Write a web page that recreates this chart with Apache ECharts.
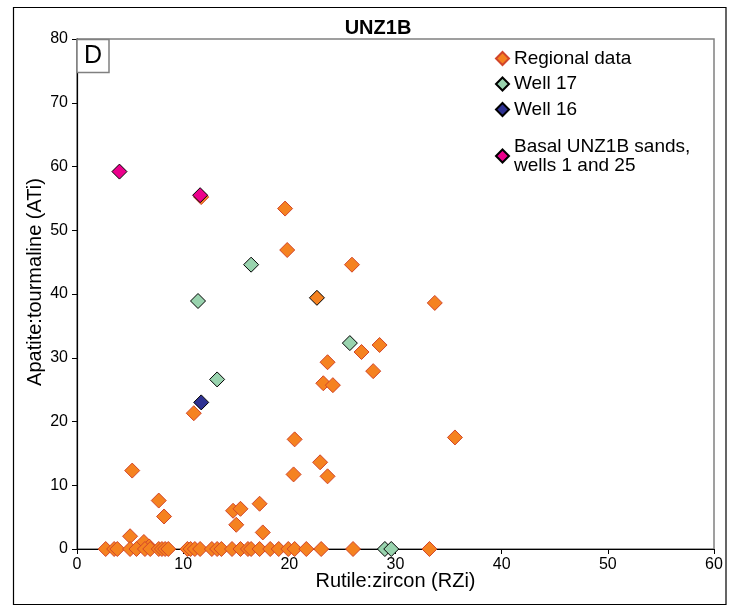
<!DOCTYPE html>
<html>
<head>
<meta charset="utf-8">
<script src="https://cdn.jsdelivr.net/npm/echarts@6/dist/echarts.min.js"></script>
<style>
html,body{margin:0;padding:0;background:#fff;}
#chart{width:732px;height:608px;}
</style>
</head>
<body>
<div id="chart"></div>
<script>
// ---- data ----
const xTicks = [0, 10, 20, 30, 40, 50, 60];
const yTicks = [0, 10, 20, 30, 40, 50, 60, 70, 80];

const regionalX = [11.7, 19.6, 19.8, 25.9, 33.7, 26.8, 28.5, 23.6, 27.9, 23.2, 24.1, 11.0, 20.5, 35.6, 5.2, 22.9, 20.4, 23.6, 7.7, 8.2, 14.7, 15.4, 15.0, 17.2, 17.5, 5.0, 6.3, 6.8,
  2.7, 3.5, 3.8, 5.0, 5.6, 6.4, 6.9, 7.7, 8.0, 8.3, 8.6, 10.4, 10.7, 11.1, 11.6, 12.7, 13.2, 13.6, 14.6, 15.4, 16.1, 16.4, 17.2, 18.2, 19.0, 19.9, 20.5, 21.6, 23.0, 26.0, 33.2];
const regionalY = [55.2, 53.4, 46.9, 44.6, 38.6, 30.9, 32.0, 29.3, 27.9, 26.0, 25.7, 21.3, 17.2, 17.5, 12.3, 13.6, 11.7, 11.4, 7.6, 5.1, 6.0, 6.3, 3.8, 7.1, 2.6, 2.0, 1.1, 0.4,
  0, 0, 0, 0, 0, 0, 0, 0, 0, 0, 0, 0, 0, 0, 0, 0, 0, 0, 0, 0, 0, 0, 0, 0, 0, 0, 0, 0, 0, 0, 0];
// regional point outlined in black
const regionalBlackX = [22.6];
const regionalBlackY = [39.4];

const well17X = [16.4, 11.4, 25.7, 13.2, 29.0, 29.6];
const well17Y = [44.6, 38.9, 32.3, 26.6, 0, 0];

const well16X = [11.7];
const well16Y = [23.0];

const basalX = [4.0, 11.6];
const basalY = [59.2, 55.5];

const seriesNames = ['Regional data', 'Well 17', 'Well 16', 'Basal UNZ1B sands,\nwells 1 and 25'];

// ---- build ----
function pairs(xs, ys) { return xs.map((x, i) => [x, ys[i]]); }
const FONT = '"Liberation Sans", Arial, sans-serif';

const regionalData = pairs(regionalX, regionalY).concat(
  pairs(regionalBlackX, regionalBlackY).map(p => ({ value: p, itemStyle: { borderColor: '#000000' } }))
);

const legendText = { fontFamily: FONT, fontSize: 19, color: '#000', lineHeight: 19 };

const chart = echarts.init(document.getElementById('chart'), null, { renderer: 'canvas' });
const SYM = 15;
chart.setOption({
  animation: false,
  backgroundColor: '#ffffff',
  title: {
    text: 'UNZ1B',
    left: 373, top: 13, textAlign: 'center',
    textStyle: { fontFamily: FONT, fontSize: 20, fontWeight: 'bold', color: '#000' }
  },
  grid: { left: 77, right: 18, top: 39, bottom: 59, show: true, borderColor: '#808080', borderWidth: 1.5, backgroundColor: 'transparent' },
  legend: [
    {
      orient: 'vertical', left: 490, top: 44,
      itemWidth: 13, itemHeight: 13, itemGap: 6.5,
      textStyle: legendText,
      data: seriesNames.slice(0, 3).map(n => ({ name: n, icon: 'diamond' }))
    },
    {
      orient: 'vertical', left: 490, top: 132,
      itemWidth: 13, itemHeight: 13,
      textStyle: legendText,
      data: seriesNames.slice(3).map(n => ({ name: n, icon: 'diamond' }))
    }
  ],
  xAxis: {
    type: 'value', min: 0, max: 60, interval: 10,
    name: 'Rutile:zircon (RZi)', nameLocation: 'middle', nameGap: 22, nameMoveOverlap: false,
    nameTextStyle: { fontFamily: FONT, fontSize: 20, color: '#000' },
    axisLine: { onZero: false, lineStyle: { color: '#000', width: 1.2 } },
    axisTick: { inside: false, length: 5, lineStyle: { color: '#000' } },
    axisLabel: { fontFamily: FONT, fontSize: 16, color: '#000', margin: 8, formatter: v => xTicks.includes(v) ? String(v) : '' },
    splitLine: { show: false }
  },
  yAxis: {
    type: 'value', min: 0, max: 80, interval: 10,
    name: 'Apatite:tourmaline (ATi)', nameLocation: 'middle', nameGap: 32, nameRotate: 90, nameMoveOverlap: false,
    nameTextStyle: { fontFamily: FONT, fontSize: 20, color: '#000', padding: [0, 0, 0, 24] },
    axisLine: { onZero: false, lineStyle: { color: '#000', width: 1.2 } },
    axisTick: { inside: false, length: 5, lineStyle: { color: '#000' } },
    axisLabel: { fontFamily: FONT, fontSize: 16, color: '#000', margin: 9, formatter: v => yTicks.includes(v) ? String(v) : '' },
    splitLine: { show: false }
  },
  series: [
    { name: seriesNames[0], type: 'scatter', symbol: 'diamond', symbolSize: SYM, data: regionalData,
      itemStyle: { color: '#F58220', borderColor: '#D2452A', borderWidth: 1, opacity: 1 } },
    { name: seriesNames[1], type: 'scatter', symbol: 'diamond', symbolSize: SYM, data: pairs(well17X, well17Y),
      itemStyle: { color: '#99D3AE', borderColor: '#000', borderWidth: 1, opacity: 1 } },
    { name: seriesNames[2], type: 'scatter', symbol: 'diamond', symbolSize: SYM, data: pairs(well16X, well16Y),
      itemStyle: { color: '#2E3192', borderColor: '#000', borderWidth: 1, opacity: 1 } },
    { name: seriesNames[3], type: 'scatter', symbol: 'diamond', symbolSize: SYM, data: pairs(basalX, basalY),
      itemStyle: { color: '#EC008C', borderColor: '#000', borderWidth: 1, opacity: 1 } }
  ],
  graphic: [
    { type: 'rect', z: 100, shape: { x: 13.5, y: 7.5, width: 712.5, height: 597 }, style: { fill: 'none', stroke: '#000', lineWidth: 1.2 } },
    { type: 'rect', z: 100, shape: { x: 77, y: 39.5, width: 32, height: 33 }, style: { fill: '#fff', stroke: '#808080', lineWidth: 1.5 } },
    { type: 'text', z: 101, left: 84, top: 44, style: { text: 'D', font: '25px "Liberation Sans", Arial, sans-serif', fill: '#000' } }
  ]
});
</script>
</body>
</html>
